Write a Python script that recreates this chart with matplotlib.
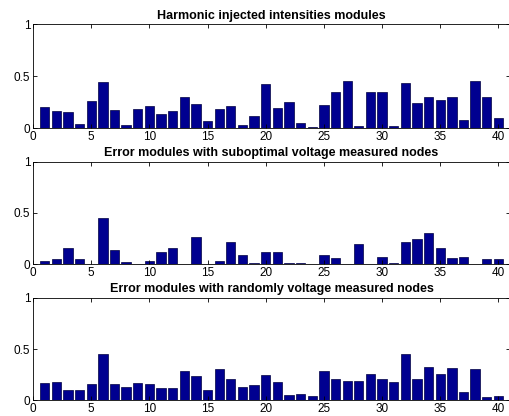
import matplotlib
matplotlib.use("Agg")
import matplotlib.pyplot as plt
import numpy as np

plt.rcParams["font.family"] = ["Liberation Sans", "DejaVu Sans"]

nodes = np.arange(1, 41)

injected = [0.203, 0.165, 0.158, 0.042, 0.265, 0.448, 0.171, 0.032, 0.18, 0.21,
            0.139, 0.165, 0.297, 0.232, 0.065, 0.18, 0.21, 0.026, 0.12, 0.42,
            0.19, 0.25, 0.045, 0.01, 0.22, 0.35, 0.45, 0.02, 0.345, 0.345,
            0.02, 0.43, 0.24, 0.295, 0.27, 0.30, 0.075, 0.455, 0.295, 0.097]

err_suboptimal = [0.033, 0.052, 0.157, 0.052, 0.006, 0.45, 0.14, 0.023, 0.006, 0.033,
                  0.115, 0.16, 0.006, 0.27, 0.006, 0.033, 0.216, 0.088, 0.008, 0.12,
                  0.12, 0.016, 0.016, 0.005, 0.085, 0.056, 0.005, 0.197, 0.005, 0.072,
                  0.007, 0.213, 0.246, 0.305, 0.154, 0.059, 0.069, 0.005, 0.046, 0.046]

err_random = [0.169, 0.175, 0.10, 0.10, 0.156, 0.448, 0.162, 0.13, 0.169, 0.162,
              0.123, 0.117, 0.29, 0.24, 0.10, 0.30, 0.21, 0.133, 0.15, 0.247,
              0.18, 0.052, 0.062, 0.042, 0.29, 0.21, 0.19, 0.19, 0.26, 0.21,
              0.18, 0.45, 0.21, 0.32, 0.26, 0.31, 0.078, 0.30, 0.032, 0.039]

titles = ["Harmonic injected intensities modules",
          "Error modules with suboptimal voltage measured nodes",
          "Error modules with randomly voltage measured nodes"]
series = [injected, err_suboptimal, err_random]

# axes boxes in figure fractions [left, bottom, width, height]
boxes = [[0.065, 0.692, 0.937, 0.250],
         [0.065, 0.365, 0.937, 0.246],
         [0.065, 0.038, 0.937, 0.246]]

fig = plt.figure(figsize=(5.09, 4.16), dpi=100)
for box, title, values in zip(boxes, titles, series):
    ax = fig.add_axes(box)
    ax.bar(nodes, values, width=0.8, color="#000090", edgecolor="#000040", linewidth=0.5)
    ax.set_xlim(0, 41)
    ax.set_ylim(0, 1)
    ax.set_xticks(range(0, 41, 5))
    ax.set_yticks([0, 0.5, 1])
    ax.set_yticklabels(["0", "0.5", "1"])
    ax.tick_params(direction="in", top=True, right=True, labelsize=8.5,
                   length=3, width=0.6, pad=2)
    for sp in ax.spines.values():
        sp.set_linewidth(0.6)
    ax.set_title(title, fontsize=9, fontweight="bold", pad=4)

fig.savefig("out.png", dpi=100)
